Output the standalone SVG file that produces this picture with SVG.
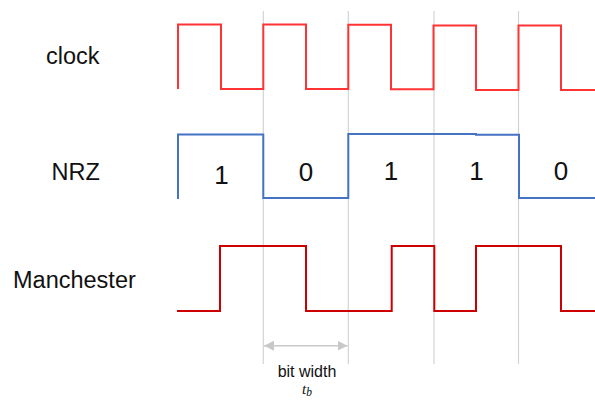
<svg xmlns="http://www.w3.org/2000/svg" width="595" height="401" viewBox="0 0 595 401">
<style>
.grid{stroke:#d3d3d3;stroke-width:1.2;fill:none}
.lbl{font-family:"Liberation Sans",Arial,sans-serif;font-size:23.5px;fill:#111}
.bit{font-family:"Liberation Sans",Arial,sans-serif;font-size:26px;fill:#111;text-anchor:middle}
.sig{fill:none;stroke-width:2;stroke-linejoin:miter}
</style>
<defs>
<marker id="ah" viewBox="0 0 10 10" refX="10" refY="5" markerWidth="10" markerHeight="10" markerUnits="userSpaceOnUse" orient="auto-start-reverse">
<path d="M0,0 L10,5 L0,10 Z" fill="#c8c8c8"/>
</marker>
</defs>
<g id="gridlines">
<line class="grid" x1="263.3" y1="11" x2="263.3" y2="364"/>
<line class="grid" x1="348.3" y1="11" x2="348.3" y2="364"/>
<line class="grid" x1="434" y1="11" x2="434" y2="364"/>
<line class="grid" x1="518.5" y1="11" x2="518.5" y2="364"/>
</g>
<g id="clock">
<text class="lbl" x="46" y="64">clock</text>
<path class="sig" stroke="#ff3333" d="M178,89 V24.5 H221 V89 H263.3 V24.5 H306 V89 H348.3 V24.7 H391 V89.3 H433.5 V25.5 H476 V90 H518.5 V25.5 H561 V90 H595"/>
</g>
<g id="nrz">
<text class="lbl" x="51.5" y="180">NRZ</text>
<path class="sig" stroke="#4472c4" d="M178,199 V134.5 H263.3 V198 H348.3 V134 H476 V134.8 H519 V198 H595"/>
<text class="bit" x="221.5" y="184">1</text>
<text class="bit" x="306" y="181">0</text>
<text class="bit" x="391" y="180">1</text>
<text class="bit" x="476.5" y="180">1</text>
<text class="bit" x="561" y="180">0</text>
</g>
<g id="manchester">
<text class="lbl" x="13" y="287.5">Manchester</text>
<path class="sig" stroke="#cc0000" d="M177,311 H220 V246 H306 V311 H391.7 V246 H434.3 V311 H476 V246 H561 V311 H595"/>
</g>
<g id="connectors">
<line x1="264" y1="345.7" x2="347.5" y2="345.7" stroke="#c8c8c8" stroke-width="1.5" marker-start="url(#ah)" marker-end="url(#ah)"/>
</g>
<g id="bitwidth">
<text x="307" y="377" font-family="Liberation Sans,Arial,sans-serif" font-size="16" fill="#111" text-anchor="middle">bit width</text>
<text x="302" y="394" font-family="Liberation Serif,'Times New Roman',serif" font-size="15" font-style="italic" fill="#111">t<tspan font-size="11.5" dy="2">b</tspan></text>
</g>
</svg>
